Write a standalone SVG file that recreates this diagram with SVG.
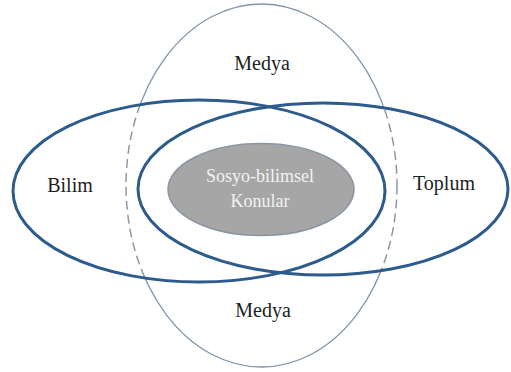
<svg xmlns="http://www.w3.org/2000/svg" width="511" height="372" viewBox="0 0 511 372">
<style>
.lbl{font-family:'Liberation Serif','DejaVu Serif',Tinos,serif;font-size:20px;fill:#1e1e1e;text-anchor:middle}
.inner{font-family:'Liberation Serif','DejaVu Serif',Tinos,serif;font-size:18px;fill:#f2f2f2;text-anchor:middle}
.band{fill:none;stroke:#2d5b8c;stroke-width:3}
.media{fill:none;stroke:#8195ab;stroke-width:1.3}
.mediaDash{fill:none;stroke:#8c98a5;stroke-width:1.5;stroke-dasharray:9 5}
</style>
<defs>
<mask id="outside">
<rect x="0" y="0" width="511" height="372" fill="#fff"/>
<ellipse cx="199" cy="191" rx="186" ry="91" fill="#000"/>
<ellipse cx="323" cy="189" rx="185" ry="86" fill="#000"/>
</mask>
<clipPath id="inside">
<ellipse cx="199" cy="191" rx="186" ry="91"/>
<ellipse cx="323" cy="189" rx="185" ry="86"/>
</clipPath>
</defs>
<rect x="0" y="0" width="511" height="372" fill="#fff"/>
<g id="medya">
<ellipse class="media" cx="261.5" cy="185.5" rx="135.5" ry="181.5" mask="url(#outside)"/>
<ellipse class="mediaDash" cx="261.5" cy="185.5" rx="135.5" ry="181.5" clip-path="url(#inside)"/>
<text class="lbl" x="262" y="70" font-family="Liberation Serif">Medya</text>
<text class="lbl" x="263" y="317" font-family="Liberation Serif">Medya</text>
</g>
<g id="bilim">
<ellipse class="band" cx="199" cy="191" rx="186" ry="91"/>
<text class="lbl" x="70" y="192" font-family="Liberation Serif">Bilim</text>
</g>
<g id="toplum">
<ellipse class="band" cx="323" cy="189" rx="185" ry="86"/>
<text class="lbl" x="444" y="190" font-family="Liberation Serif">Toplum</text>
</g>
<g id="sosyo">
<ellipse cx="261" cy="189.5" rx="93" ry="46" fill="#a6a6a6" stroke="#8a96a3" stroke-width="1.5"/>
<text class="inner" x="260" y="182" font-family="Liberation Serif">Sosyo-bilimsel</text>
<text class="inner" x="260" y="207" font-family="Liberation Serif">Konular</text>
</g>
<g id="connectors"/>
</svg>
